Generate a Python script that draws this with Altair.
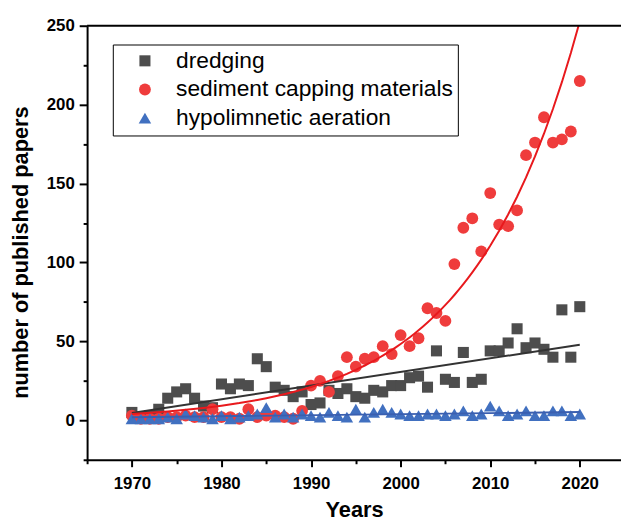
import altair as alt
import pandas as pd

years = list(range(1970, 2021))

dredging = [5, 2, 3, 7, 14, 18, 20, 14, 9, 8, 23, 20, 23, 22, 39, 34, 21, 19, 15, 18,
            10, 11, 19, 17, 20, 15, 14, 19, 18, 22, 22, 27, 28, 21, 44, 26, 24, 43, 24, 26,
            44, 44, 49, 58, 46, 49, 45, 40, 70, 40, 72]

capping = [3, 1, 1, 1, 2, 2, 3, 2, 2, 7, 2, 2, 1, 7, 2, 3, 3, 2, 1, 6,
           22, 25, 18, 28, 40, 34, 39, 40, 47, 42, 54, 47, 52, 71, 68, 63, 99, 122, 128, 107,
           144, 124, 123, 133, 168, 176, 192, 176, 178, 183, 215]

aeration = [1, 1, 1, 1, 2, 1, 4, 3, 2, 1, 3, 1, 2, 3, 4, 8, 2, 4, 2, 4,
            3, 2, 5, 3, 2, 7, 2, 5, 7, 5, 4, 3, 3, 4, 4, 3, 4, 6, 3, 4,
            9, 6, 3, 4, 6, 3, 3, 6, 6, 3, 4]

series_names = ["dredging", "sediment capping materials", "hypolimnetic aeration"]
point_colors = ["#4d4d4d", "#ef3c3c", "#4170c0"]
point_shapes = ["square", "circle", "triangle-up"]
point_sizes = [125, 160, 185]
line_colors = ["#333333", "#e8191d", "#3a5fb0"]
fit_methods = ["linear", "exp", "linear"]

x_major = list(range(1970, 2021, 10))
x_minor = list(range(1965, 2020, 10))
y_major = list(range(0, 251, 50))
y_minor = list(range(-25, 250, 50))

rows = []
for name, vals in zip(series_names, [dredging, capping, aeration]):
    for yr, v in zip(years, vals):
        rows.append({"year": yr, "papers": v, "series": name})
df = pd.DataFrame(rows)

FONT = "Liberation Sans"
W, H = 540, 439

x_scale = alt.Scale(domain=[1965, 2024.6], nice=False, zero=False)
y_scale = alt.Scale(domain=[-25, 250], nice=False, zero=False)

x_axis = alt.Axis(
    orient="bottom", values=x_major, format="d", grid=False, title="Years",
    labelFont=FONT, labelFontSize=17, labelFontWeight="bold", labelColor="black",
    labelPadding=9, labelFlush=False, labelOverlap=False,
    tickSize=7, tickWidth=2, tickColor="black", domainWidth=2, domainColor="black",
    titleFont=FONT, titleFontSize=22, titleFontWeight="bold", titleColor="black",
    titleBaseline="alphabetic", titleY=57,
)
y_axis = alt.Axis(
    orient="left", values=y_major, format="d", grid=False, title="number of published papers",
    labelFont=FONT, labelFontSize=17, labelFontWeight="bold", labelColor="black",
    labelPadding=5, labelFlush=False, labelOverlap=False,
    tickSize=8, tickWidth=2, tickColor="black", domainWidth=2, domainColor="black",
    titleFont=FONT, titleFontSize=22, titleFontWeight="bold", titleColor="black",
    titleAngle=270, titleBaseline="alphabetic", titleAlign="center",
    titleX=-60, titleY=229,
)
x_axis_minor = alt.Axis(
    orient="bottom", values=x_minor, grid=False, labels=False, domain=False, title=None,
    tickSize=4, tickWidth=2, tickColor="black",
)
y_axis_minor = alt.Axis(
    orient="left", values=y_minor, grid=False, labels=False, domain=False, title=None,
    tickSize=4, tickWidth=2, tickColor="black",
)

legend = alt.Legend(
    orient="none", legendX=26, legendY=19, title=None,
    strokeColor="black", fillColor="white", padding=5,
    labelFont=FONT, labelFontSize=23, labelColor="black", labelLimit=400,
    symbolSize=110, symbolOffset=16, labelOffset=20, rowPadding=5,
    symbolOpacity=1, symbolStrokeWidth=0,
)

points = alt.Chart(df).mark_point(filled=True, opacity=1, strokeWidth=0).encode(
    x=alt.X("year:Q", scale=x_scale, axis=x_axis),
    y=alt.Y("papers:Q", scale=y_scale, axis=y_axis),
    color=alt.Color("series:N", scale=alt.Scale(domain=series_names, range=point_colors),
                    sort=series_names, legend=legend),
    shape=alt.Shape("series:N", scale=alt.Scale(domain=series_names, range=point_shapes),
                    sort=series_names, legend=legend),
    size=alt.Size("series:N", scale=alt.Scale(domain=series_names, range=point_sizes),
                  legend=None),
)

fits = []
for i, (name, col, method) in enumerate(zip(series_names, line_colors, fit_methods)):
    if i == 0:
        xa, ya = x_axis_minor, y_axis_minor
    else:
        xa, ya = None, None
    fits.append(
        alt.Chart(df).transform_filter(alt.datum.series == name)
        .transform_regression("year", "papers", method=method)
        .mark_line(color=col, strokeWidth=2, clip=True)
        .encode(x=alt.X("year:Q", scale=x_scale, axis=xa),
                y=alt.Y("papers:Q", scale=y_scale, axis=ya))
    )

frame_top = alt.Chart(pd.DataFrame({"top": [250]})).mark_rule(color="black", strokeWidth=2).encode(
    y=alt.Y("top:Q", scale=y_scale, axis=None), x=alt.value(0), x2=alt.value(W)
)

chart = alt.layer(points, *fits, frame_top).resolve_axis(
    x="independent", y="independent"
).properties(
    width=W, height=H,
    autosize=alt.AutoSizeParams(type="none"),
    padding={"left": 80, "top": 15, "right": 0, "bottom": 60},
    background="white",
).configure_view(stroke=None)

chart.save("out.html", embed_options={"renderer": "svg", "actions": False})
